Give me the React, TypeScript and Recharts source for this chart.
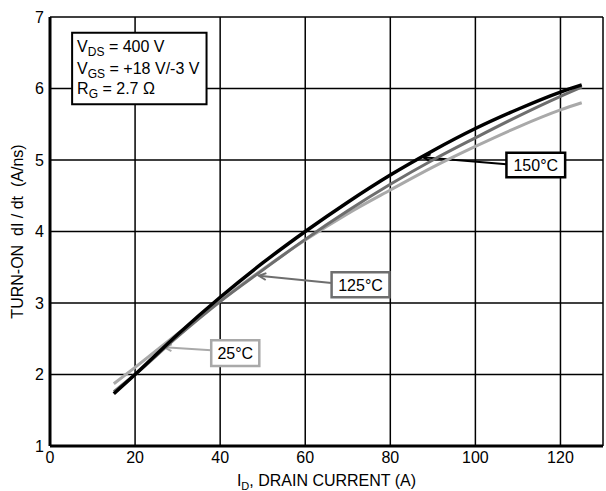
import React from "react"
import {
  CartesianGrid,
  Line,
  LineChart,
  ReferenceArea,
  ReferenceLine,
  XAxis,
  YAxis,
} from "recharts"

// drain current (A)
const currentA = [15, 20, 30, 40, 50, 60, 70, 80, 90, 100, 110, 120, 125]
// turn-on dI/dt (A/ns) per junction temperature
const didt150 = [1.73, 2.0, 2.56, 3.08, 3.56, 4.0, 4.41, 4.79, 5.13, 5.44, 5.71, 5.95, 6.05]
const didt125 = [1.76, 2.0, 2.53, 3.02, 3.46, 3.89, 4.29, 4.66, 5.0, 5.31, 5.61, 5.89, 6.02]
const didt25 = [1.87, 2.1, 2.57, 3.03, 3.47, 3.88, 4.25, 4.58, 4.9, 5.19, 5.46, 5.7, 5.8]

const xTicks = [0, 20, 40, 60, 80, 100, 120]
const yTicks = [1, 2, 3, 4, 5, 6, 7]

const data = currentA.map((id, i) => ({
  id,
  t150: didt150[i],
  t125: didt125[i],
  t25: didt25[i],
}))

const FONT = "'Liberation Sans', Arial, sans-serif"
const BLACK = "#000"
const DARK = "#6e6e6e"
const LIGHT = "#a9a9a9"

// callouts, in data units
const callouts = [
  { text: "150°C", color: BLACK, box: [107.3, 121.1, 4.76, 5.1], from: [107.3, 4.94], tip: [87.7, 5.04] },
  { text: "125°C", color: DARK, box: [66.2, 79.8, 3.08, 3.43], from: [66.2, 3.28], tip: [49.1, 3.38] },
  { text: "25°C", color: LIGHT, box: [37.9, 49.2, 2.12, 2.48], from: [37.9, 2.34], tip: [26.9, 2.38] },
]

const Arrow = (props: any) => {
  const { x1, y1, x2, y2, stroke } = props
  const a = Math.atan2(y2 - y1, x2 - x1)
  const len = 8
  const w = 0.45
  const p1 = [x2 - len * Math.cos(a - w), y2 - len * Math.sin(a - w)]
  const p2 = [x2 - len * Math.cos(a + w), y2 - len * Math.sin(a + w)]
  return (
    <g>
      <line x1={x1} y1={y1} x2={x2} y2={y2} stroke={stroke} strokeWidth={2} />
      <polyline
        points={`${p1[0]},${p1[1]} ${x2},${y2} ${p2[0]},${p2[1]}`}
        fill="none"
        stroke={stroke}
        strokeWidth={2}
      />
    </g>
  )
}

const boxText = (text: string) => (props: any) => {
  const vb = props.viewBox
  return (
    <text
      x={vb.x + vb.width / 2}
      y={vb.y + vb.height / 2 + 6}
      textAnchor="middle"
      fontFamily={FONT}
      fontSize={16}
      fill="#000"
    >
      {text}
    </text>
  )
}

const Sub = ({ children }: { children: string }) => (
  <>
    <tspan dy={4} fontSize={12}>
      {children}
    </tspan>
    <tspan dy={-4}> </tspan>
  </>
)

const conditionsText = (props: any) => {
  const vb = props.viewBox
  const x = vb.x + 5
  return (
    <g fontFamily={FONT} fontSize={16} fill="#000">
      <text x={x} y={vb.y + 19}>
        V<Sub>DS</Sub>= 400 V
      </text>
      <text x={x} y={vb.y + 41}>
        V<Sub>GS</Sub> = +18 V/-3 V
      </text>
      <text x={x} y={vb.y + 61}>
        R<Sub>G</Sub>= 2.7 Ω
      </text>
    </g>
  )
}

const xLabel = (props: any) => {
  const vb = props.viewBox
  return (
    <text x={vb.x + vb.width / 2} y={vb.y + 40} textAnchor="middle" fontFamily={FONT} fontSize={16} fill="#000">
      I<tspan dy={4} fontSize={11}>D</tspan>
      <tspan dy={-4}>, DRAIN CURRENT (A)</tspan>
    </text>
  )
}

const yLabel = (props: any) => {
  const vb = props.viewBox
  const cx = 23
  const cy = vb.y + vb.height / 2
  return (
    <text
      x={cx}
      y={cy}
      transform={`rotate(-90, ${cx}, ${cy})`}
      textAnchor="middle"
      fontFamily={FONT}
      fontSize={16}
      fill="#000"
      style={{ whiteSpace: "pre" }}
    >
      TURN-ON  dI / dt  (A/ns)
    </text>
  )
}

export default function App() {
  return (
    <div style={{ position: "absolute", left: 0, top: 0, background: "#fff" }}>
      <LineChart
        width={606}
        height={491}
        data={data}
        margin={{ top: 17, right: 3, bottom: 0, left: 0 }}
      >
        <CartesianGrid stroke="#000" strokeWidth={1.5} />
        <XAxis
          dataKey="id"
          type="number"
          domain={[0, 130]}
          ticks={xTicks}
          height={45}
          tickLine={false}
          tickSize={4}
          tickMargin={2}
          axisLine={{ stroke: "#000", strokeWidth: 3 }}
          tick={{ fill: "#000", fontSize: 16, fontFamily: FONT }}
          label={{ content: xLabel }}
        />
        <YAxis
          type="number"
          domain={[1, 7]}
          ticks={yTicks}
          width={50}
          tickLine={false}
          tickSize={4}
          tickMargin={2}
          axisLine={{ stroke: "#000", strokeWidth: 3 }}
          tick={{ fill: "#000", fontSize: 16, fontFamily: FONT }}
          label={{ content: yLabel }}
        />
        <ReferenceArea
          x1={5.2}
          x2={36.8}
          y1={5.78}
          y2={6.78}
          fill="#fff"
          fillOpacity={1}
          stroke="#000"
          strokeWidth={2}
          ifOverflow="visible"
          label={conditionsText}
        />
        {callouts.map((c) => (
          <ReferenceLine
            key={c.text + "-arrow"}
            segment={[
              { x: c.from[0], y: c.from[1] },
              { x: c.tip[0], y: c.tip[1] },
            ]}
            stroke={c.color}
            ifOverflow="visible"
            shape={(p: any) => <Arrow {...p} stroke={c.color} />}
          />
        ))}
        {callouts.map((c) => (
          <ReferenceArea
            key={c.text}
            x1={c.box[0]}
            x2={c.box[1]}
            y1={c.box[2]}
            y2={c.box[3]}
            fill="#fff"
            fillOpacity={1}
            stroke={c.color}
            strokeWidth={2.5}
            ifOverflow="visible"
            label={boxText(c.text)}
          />
        ))}
        <Line type="monotone" dataKey="t25" stroke={LIGHT} strokeWidth={3} dot={false} isAnimationActive={false} />
        <Line type="monotone" dataKey="t125" stroke={DARK} strokeWidth={3} dot={false} isAnimationActive={false} />
        <Line type="monotone" dataKey="t150" stroke={BLACK} strokeWidth={3.5} dot={false} isAnimationActive={false} />
      </LineChart>
    </div>
  )
}
